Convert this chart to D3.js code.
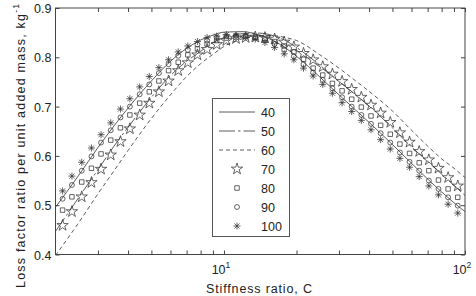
<!DOCTYPE html>
<html>
<head>
<meta charset="utf-8">
<script src="https://cdn.jsdelivr.net/npm/d3@7"></script>
<style>
  body { margin: 0; background: #fff; }
  svg { display: block; font-family: "Liberation Sans", Arial, sans-serif; }
</style>
</head>
<body>
<div id="chart"></div>
<script>
// stiffness ratios where the markers sit
const cMarks = [2.14, 2.34, 2.57, 2.82, 3.09, 3.39, 3.72, 4.07, 4.47, 4.90, 5.37, 5.89, 6.46, 7.08,
    7.76, 8.51, 9.33, 10.23, 11.22, 12.30, 13.49, 14.79, 16.22, 17.78, 19.50, 21.38, 23.44, 25.70,
    28.18, 30.90, 33.88, 37.15, 40.74, 44.67, 48.98, 53.70, 58.88, 64.57, 70.79, 77.62, 85.11, 93.33];

const m70 = [0.459, 0.487, 0.517, 0.546, 0.573, 0.602, 0.629, 0.655, 0.683, 0.707, 0.730, 0.752, 0.773, 0.789,
    0.805, 0.816, 0.826, 0.834, 0.838, 0.840, 0.841, 0.840, 0.837, 0.831, 0.821, 0.808, 0.795, 0.781,
    0.766, 0.751, 0.735, 0.719, 0.703, 0.687, 0.668, 0.647, 0.628, 0.609, 0.592, 0.575, 0.556, 0.539];
const m80 = [0.490, 0.517, 0.547, 0.575, 0.604, 0.632, 0.657, 0.683, 0.707, 0.730, 0.752, 0.773, 0.790, 0.805,
    0.817, 0.827, 0.834, 0.839, 0.841, 0.842, 0.841, 0.838, 0.832, 0.823, 0.811, 0.796, 0.778, 0.764,
    0.747, 0.732, 0.715, 0.699, 0.681, 0.662, 0.644, 0.624, 0.605, 0.586, 0.570, 0.551, 0.533, 0.516];
const m90 = [0.513, 0.541, 0.570, 0.599, 0.627, 0.652, 0.678, 0.700, 0.725, 0.745, 0.768, 0.786, 0.803, 0.815,
    0.826, 0.834, 0.840, 0.843, 0.844, 0.843, 0.840, 0.835, 0.827, 0.816, 0.802, 0.786, 0.769, 0.754,
    0.737, 0.719, 0.700, 0.683, 0.665, 0.646, 0.627, 0.607, 0.588, 0.570, 0.550, 0.533, 0.516, 0.499];
const m100 = [0.529, 0.559, 0.587, 0.616, 0.643, 0.667, 0.695, 0.716, 0.740, 0.761, 0.779, 0.795, 0.811, 0.823,
    0.832, 0.840, 0.843, 0.846, 0.844, 0.841, 0.837, 0.830, 0.820, 0.807, 0.795, 0.778, 0.762, 0.745,
    0.727, 0.708, 0.690, 0.672, 0.653, 0.633, 0.614, 0.595, 0.577, 0.558, 0.539, 0.521, 0.502, 0.484];

// smooth curves
const cLine = [2, 2.5, 3, 3.5, 4, 5, 6, 7, 8, 9, 10, 12, 14, 16, 18, 20, 25, 30, 35, 40, 50, 60, 70, 80, 90, 100];
const l40 = [0.496, 0.561, 0.617, 0.661, 0.697, 0.752, 0.792, 0.818, 0.835, 0.845, 0.851, 0.852, 0.845, 0.834,
    0.819, 0.802, 0.760, 0.724, 0.694, 0.668, 0.623, 0.585, 0.553, 0.527, 0.505, 0.487];
const l50 = [0.447, 0.516, 0.572, 0.620, 0.658, 0.719, 0.763, 0.792, 0.812, 0.830, 0.840, 0.848, 0.849, 0.844,
    0.834, 0.820, 0.784, 0.751, 0.725, 0.701, 0.657, 0.618, 0.589, 0.563, 0.540, 0.520];
const l60 = [0.398, 0.465, 0.523, 0.570, 0.611, 0.676, 0.724, 0.761, 0.787, 0.806, 0.822, 0.838, 0.843, 0.844,
    0.840, 0.834, 0.805, 0.778, 0.753, 0.731, 0.691, 0.652, 0.620, 0.594, 0.575, 0.556];

const yTicks = [0.4, 0.5, 0.6, 0.7, 0.8, 0.9];
const xMajor = [10, 100];
const xMinor = [3, 4, 5, 6, 7, 8, 9, 20, 30, 40, 50, 60, 70, 80, 90];
const legendNames = ["40", "50", "60", "70", "80", "90", "100"];

const width = 476,
      height = 296,
      margin = ({ top: 8, right: 11, bottom: 41.5, left: 55.5 });

const axisColor = "#444",
      ink = "#333";

let svg = d3.select("#chart")
    .append("svg")
    .attr("width", width)
    .attr("height", height);

let x = d3.scaleLog()
    .domain([2, 100])
    .range([margin.left, width - margin.right]);

let y = d3.scaleLinear()
    .domain([0.4, 0.9])
    .range([height - margin.bottom, margin.top]);

svg.append("defs").append("clipPath")
    .attr("id", "plot-clip")
    .append("rect")
    .attr("x", margin.left)
    .attr("y", margin.top)
    .attr("width", width - margin.left - margin.right)
    .attr("height", height - margin.top - margin.bottom);

// ticks point inward, on all four sides (matlab box)
const tk = 4;
svg.append("g")
    .attr("transform", `translate(0,${height - margin.bottom})`)
    .call(d3.axisBottom(x).tickValues(xMajor.concat(xMinor)).tickSizeInner(-tk).tickSizeOuter(0).tickFormat(""))
    .call(g => g.select(".domain").remove());
svg.append("g")
    .attr("transform", `translate(0,${margin.top})`)
    .call(d3.axisTop(x).tickValues(xMajor.concat(xMinor)).tickSizeInner(-tk).tickSizeOuter(0).tickFormat(""))
    .call(g => g.select(".domain").remove());
svg.append("g")
    .attr("transform", `translate(${margin.left},0)`)
    .call(d3.axisLeft(y).tickValues(yTicks).tickSizeInner(-tk).tickSizeOuter(0).tickFormat(""))
    .call(g => g.select(".domain").remove());
svg.append("g")
    .attr("transform", `translate(${width - margin.right},0)`)
    .call(d3.axisRight(y).tickValues(yTicks).tickSizeInner(-tk).tickSizeOuter(0).tickFormat(""))
    .call(g => g.select(".domain").remove());
svg.selectAll(".tick line").attr("stroke", axisColor);

// y tick labels
svg.append("g")
    .selectAll("text")
    .data(yTicks)
    .join("text")
    .attr("x", margin.left - 4)
    .attr("y", d => y(d) + 5)
    .attr("text-anchor", "end")
    .attr("font-size", 12.5)
    .attr("fill", "#222")
    .text(d => d3.format(".1f")(d));

// x tick labels: 10^1, 10^2
let xl = svg.append("g")
    .selectAll("text")
    .data(xMajor)
    .join("text")
    .attr("x", d => x(d) - 3)
    .attr("y", height - margin.bottom + 19)
    .attr("text-anchor", "middle")
    .attr("font-size", 12.5)
    .attr("fill", "#222");
xl.append("tspan").text("10");
xl.append("tspan")
    .attr("font-size", 8.5)
    .attr("dy", -6)
    .text(d => Math.round(Math.log10(d)));

// lines
const line = (vals) => d3.line()
    .x((d, i) => x(cLine[i]))
    .y(d => y(d))
    .curve(d3.curveMonotoneX)(vals);

const lineStyles = [
    { vals: l40, dash: null },
    { vals: l50, dash: "16,3,2.5,3" },
    { vals: l60, dash: "4,3" }
];

let plot = svg.append("g").attr("clip-path", "url(#plot-clip)");

plot.selectAll("path.curve")
    .data(lineStyles)
    .join("path")
    .attr("class", "curve")
    .attr("d", d => line(d.vals))
    .attr("fill", "none")
    .attr("stroke", ink)
    .attr("stroke-width", 0.8)
    .attr("stroke-dasharray", d => d.dash);

// markers
const asterisk = {
    draw(ctx, size) {
        const r = Math.sqrt(size) / 2, d = r * 0.72;
        ctx.moveTo(0, -r); ctx.lineTo(0, r);
        ctx.moveTo(-r, 0); ctx.lineTo(r, 0);
        ctx.moveTo(-d, -d); ctx.lineTo(d, d);
        ctx.moveTo(-d, d); ctx.lineTo(d, -d);
    }
};

const markerStyles = [
    { vals: m70, sym: d3.symbol(d3.symbolStar, 40) },
    { vals: m80, sym: d3.symbol(d3.symbolSquare, 20) },
    { vals: m90, sym: d3.symbol(d3.symbolCircle, 19) },
    { vals: m100, sym: d3.symbol(asterisk, 50) }
];

markerStyles.forEach(s => {
    plot.append("g")
        .selectAll("path")
        .data(s.vals)
        .join("path")
        .attr("transform", (d, i) => `translate(${x(cMarks[i])},${y(d)})`)
        .attr("d", s.sym())
        .attr("fill", "none")
        .attr("stroke", ink)
        .attr("stroke-width", 0.75);
});

// box
svg.append("rect")
    .attr("x", margin.left)
    .attr("y", margin.top)
    .attr("width", width - margin.left - margin.right)
    .attr("height", height - margin.top - margin.bottom)
    .attr("fill", "none")
    .attr("stroke", axisColor)
    .attr("stroke-width", 1);

// legend
const lg = { x: 212, y: 98, w: 77, h: 138, row: 19, first: 14 };
let legend = svg.append("g");
legend.append("rect")
    .attr("x", lg.x + 0.5)
    .attr("y", lg.y + 0.5)
    .attr("width", lg.w)
    .attr("height", lg.h)
    .attr("fill", "#fff")
    .attr("stroke", "#555");

let item = legend.selectAll("g.item")
    .data(legendNames)
    .join("g")
    .attr("class", "item")
    .attr("transform", (d, i) => `translate(${lg.x},${lg.y + lg.first + i * lg.row})`);

item.filter((d, i) => i < 3)
    .append("line")
    .attr("x1", 7)
    .attr("x2", 43)
    .attr("stroke", ink)
    .attr("stroke-width", 0.8)
    .attr("stroke-dasharray", (d, i) => lineStyles[i].dash);

item.filter((d, i) => i >= 3)
    .append("path")
    .attr("transform", "translate(25,0)")
    .attr("d", (d, i) => markerStyles[i].sym())
    .attr("fill", "none")
    .attr("stroke", ink)
    .attr("stroke-width", 0.75);

item.append("text")
    .attr("x", 49)
    .attr("y", 4.5)
    .attr("font-size", 12.5)
    .attr("fill", "#222")
    .text(d => d);

// axis titles
svg.append("text")
    .attr("x", 206)
    .attr("y", 293)
    .attr("textLength", 106)
    .attr("lengthAdjust", "spacing")
    .attr("font-size", 12.5)
    .attr("fill", "#222")
    .text("Stiffness ratio, C");

let yl = svg.append("text")
    .attr("transform", "translate(25,288) rotate(-90)")
    .attr("textLength", 284)
    .attr("lengthAdjust", "spacing")
    .attr("font-size", 12.5)
    .attr("fill", "#222");
yl.append("tspan").text("Loss factor ratio per unit added mass, kg");
yl.append("tspan").attr("font-size", 8.5).attr("dy", -6).text("-1");
</script>
</body>
</html>
